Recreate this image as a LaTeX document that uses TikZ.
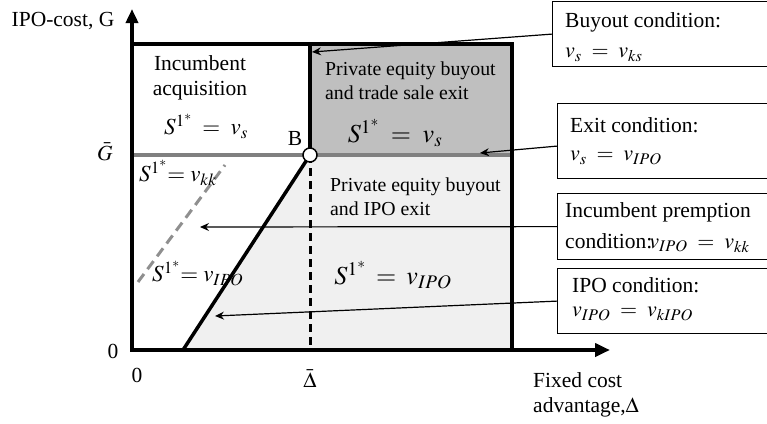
\documentclass[tikz,border=0pt]{standalone}
\usepackage{mathptmx}
\usepackage{fontspec}
\setmainfont{Liberation Serif}
\usetikzlibrary{arrows.meta,calc}
\definecolor{darkreg}{gray}{0.75}
\definecolor{lightreg}{gray}{0.94}
\definecolor{midgray}{gray}{0.5}
\definecolor{dashgray}{gray}{0.56}
\begin{document}
\begin{tikzpicture}[x=1pt,y=-1pt,
  font=\fontsize{21.5}{25}\selectfont,
  txt/.style={inner sep=0pt},
  petxt/.style={inner sep=0pt, align=left, anchor=west, font=\fontsize{19.8}{24}\selectfont},
  mbig/.style={inner sep=0pt, font=\fontsize{26}{30}\selectfont},
  mmid/.style={inner sep=0pt, font=\fontsize{23}{27}\selectfont},
  mbox/.style={inner sep=0pt, anchor=west, font=\fontsize{22}{26}\selectfont},
  box/.style={draw, fill=white, line width=1.2pt, anchor=north west, inner sep=0pt},
  leader/.style={line width=1.2pt, -{Stealth[length=9pt,width=8pt,inset=3pt]}},
  bold/.style={line width=4pt, line join=miter},
  axis/.style={line width=4pt, line join=miter,
    {Triangle[length=14pt,width=12pt]}-{Triangle[length=15pt,width=13pt]}}
]
\useasboundingbox (0,0) rectangle (767,423);

% regions
\coordinate (B) at (310,155);
\coordinate (D0) at (183,350);
\fill[lightreg] (D0) -- (B) -- (512,155) -- (512,350) -- cycle;
\fill[darkreg] (310,44) rectangle (512,155);

% boundaries
\draw[midgray, line width=4pt] (134,155) -- (512,155);
\draw[dashgray, line width=3pt, dash pattern=on 10pt off 6pt] (138,282) -- (225,165);
\draw[line width=3pt, dash pattern=on 8pt off 5pt] (B) -- (310,350);
\draw[line width=3.5pt] (D0) -- (B);
\draw[bold] (132,44) -- (512,44) -- (512,350);
\draw[bold] (310,44) -- (B);

% axes
\coordinate (O) at (132,350);
\coordinate (ytip) at (132,9);
\coordinate (xtip) at (610,350);
\draw[axis] (ytip) -- (O) -- (xtip);

% point B
\node[circle, draw, fill=white, line width=1.5pt, minimum size=14pt, inner sep=0pt] (Bc) at (B) {};

% labels
\node[txt] (ylab) at (63,21) {IPO-cost, G};
\node[txt, align=center] (inc) at (200,78) {Incumbent\\acquisition};
\node[mmid] (s1) at (206,126) {$\thickmuskip=8mu S^{1^*} = v_s$};
\node[txt] (Blab) at (295,138) {B};
\node[txt] (Gbar) at (105,152) {$\bar{G}$};
\node[petxt] (pet) at (325,81) {Private equity buyout\\and trade sale exit};
\node[mbig] (s2) at (395,133) {$\thickmuskip=8mu S^{1^*} = v_s$};
\node[petxt] (pei) at (330,197) {Private equity buyout\\and IPO exit};
\node[mbig] (s3) at (393,275) {$\thickmuskip=7mu S^{1^*} = v_{IPO}$};
\node[mmid, anchor=west] (s4) at (139,173) {$S^{1^*}\!\!= v_{kk}$};
\node[mmid, anchor=west] (s5) at (152,273) {$S^{1^*}\!\!= v_{IPO}$};
\node[txt] (z1) at (113,351) {0};
\node[txt] (z2) at (137,375) {0};
\node[txt] (dbar) at (310,379) {$\bar{\Delta}$};
\node[txt, align=left, anchor=west] (xlab) at (533,395) {Fixed cost\\advantage,$\Delta$};

% callout boxes
\node[box, minimum width=223pt, minimum height=65pt] (b1) at (552,1) {};
\node[box, minimum width=218pt, minimum height=75pt] (b2) at (557,103) {};
\node[box, minimum width=218pt, minimum height=66pt] (b3) at (557,193) {};
\node[box, minimum width=218pt, minimum height=65pt] (b4) at (557,268) {};

\node[txt, anchor=west] (b1a) at (565,22) {Buyout condition:};
\node[mbox] (b1b) at (565,55) {$\thickmuskip=8mu v_s = v_{ks}$};
\node[txt, anchor=west] (b2a) at (570,125) {Exit condition:};
\node[mbox] (b2b) at (570,158) {$\thickmuskip=8mu v_s = v_{IPO}$};
\node[txt, anchor=west] (b3a) at (565,212) {Incumbent premption};
\node[txt, anchor=west] (b3b) at (565,243) {condition:\kern-3pt{\fontsize{22}{26}\selectfont$\thickmuskip=8mu v_{IPO} = v_{kk}$}};
\node[txt, anchor=west] (b4a) at (572,285) {IPO condition:};
\node[mbox] (b4b) at (572,314) {$\thickmuskip=8mu v_{IPO} = v_{kIPO}$};

% leaders
\coordinate (a1) at (312,52);
\coordinate (a2) at (480,153);
\coordinate (a3) at (200,227);
\coordinate (a4) at (215,316);
\draw[leader] (b1.west) -- (a1);
\draw[leader] ($(b2.west)+(0,5)$) -- (a2);
\draw[leader] (b3.west) -- (a3);
\draw[leader] (b4.west) -- (a4);
\end{tikzpicture}
\end{document}
